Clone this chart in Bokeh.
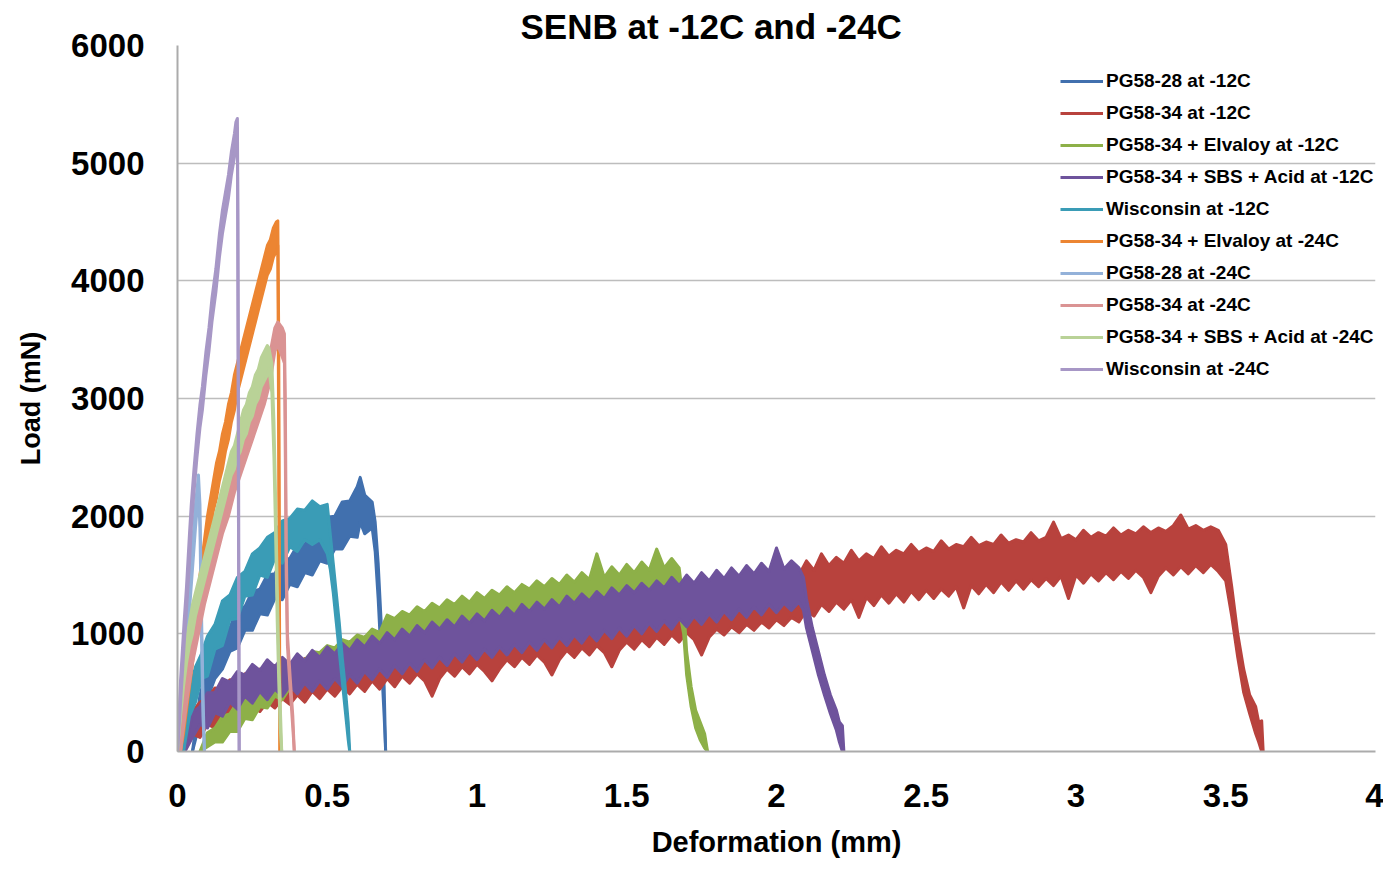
from bokeh.plotting import figure
from bokeh.models import Legend, LegendItem, FixedTicker, Range1d
from bokeh.embed import file_html
from bokeh.resources import INLINE

# ---------------- data ----------------
title_text = "SENB at -12C and -24C"
x_label = "Deformation (mm)"
y_label = "Load (mN)"
x_ticks = [0, 0.5, 1, 1.5, 2, 2.5, 3, 3.5, 4]
x_tick_labels = ["0", "0.5", "1", "1.5", "2", "2.5", "3", "3.5", "4"]
y_ticks = [0, 1000, 2000, 3000, 4000, 5000, 6000]
y_tick_labels = ["0", "1000", "2000", "3000", "4000", "5000", "6000"]

series_names = [
    "PG58-28 at -12C", "PG58-34 at -12C", "PG58-34 + Elvaloy at -12C",
    "PG58-34 + SBS + Acid at -12C", "Wisconsin at -12C", "PG58-34 + Elvaloy at -24C",
    "PG58-28 at -24C", "PG58-34 at -24C", "PG58-34 + SBS + Acid at -24C",
    "Wisconsin at -24C",
]
series_colors = ["#4170AE", "#B8423D", "#8DB048", "#6E539C", "#3A9CB6",
                 "#EC8532", "#93B1D9", "#DA9393", "#B9D297", "#A797C6"]

# each series: (deformation mm, lower edge of noisy trace mN, upper edge mN)
pg5828_m12 = [(0.050,0,0),(0.075,250,480),(0.100,450,720),(0.125,620,820),(0.150,700,1030),
    (0.175,850,1050),(0.200,880,1220),(0.225,1030,1230),(0.250,1030,1360),(0.275,1170,1380),
    (0.300,1160,1500),(0.325,1300,1510),(0.350,1290,1630),(0.375,1420,1640),(0.400,1400,1750),
    (0.425,1520,1760),(0.450,1500,1870),(0.475,1620,1880),(0.500,1600,1990),(0.525,1720,2000),
    (0.550,1720,2120),(0.575,1830,2130),(0.600,1820,2250),(0.610,1950,2330),(0.625,1850,2180),
    (0.650,1900,2120),(0.660,1700,1950),(0.670,1300,1600),(0.680,800,1100),(0.690,300,550),(0.695,0,0)]

pg5834_m12 = [(0.000,0,0),(0.025,60,220),(0.050,150,340),(0.075,120,420),(0.100,230,450),
    (0.125,200,540),(0.150,300,530),(0.175,270,610),(0.200,350,580),(0.225,300,660),(0.250,390,620),
    (0.275,340,700),(0.300,420,650),(0.325,370,730),(0.350,450,680),(0.375,400,760),(0.400,480,710),
    (0.425,420,790),(0.450,510,740),(0.475,450,820),(0.500,530,770),(0.525,470,840),(0.550,550,790),
    (0.575,490,870),(0.600,570,820),(0.625,510,890),(0.650,600,840),(0.675,530,910),(0.700,620,870),
    (0.725,550,940),(0.750,640,890),(0.775,580,960),(0.800,660,910),(0.825,600,980),(0.850,470,940),
    (0.875,620,1000),(0.900,700,960),(0.925,640,1030),(0.950,720,980),(0.975,660,1050),(1.000,740,1000),
    (1.025,680,1070),(1.050,600,1030),(1.075,700,1090),(1.100,780,1050),(1.125,720,1110),(1.150,800,1070),
    (1.175,740,1130),(1.200,820,1090),(1.225,760,1150),(1.250,650,1110),(1.275,780,1170),(1.300,860,1130),
    (1.325,800,1190),(1.350,880,1150),(1.375,820,1210),(1.400,900,1170),(1.425,840,1230),(1.450,720,1190),
    (1.475,860,1250),(1.500,930,1210),(1.525,870,1270),(1.550,950,1230),(1.575,890,1290),(1.600,970,1250),
    (1.625,910,1310),(1.650,990,1270),(1.675,930,1330),(1.700,1010,1290),(1.725,950,1350),(1.750,820,1310),
    (1.775,970,1370),(1.800,1040,1330),(1.825,990,1390),(1.850,1060,1350),(1.875,1010,1410),(1.900,1080,1370),
    (1.925,1030,1430),(1.950,1100,1390),(1.975,1050,1450),(2.000,1120,1410),(2.025,1070,1470),(2.050,1140,1430),
    (2.075,1100,1500),(2.100,1200,1620),(2.125,1150,1540),(2.150,1250,1680),(2.175,1190,1580),(2.200,1270,1650),
    (2.225,1210,1600),(2.250,1290,1710),(2.275,1140,1620),(2.300,1310,1680),(2.325,1240,1640),(2.350,1330,1740),
    (2.375,1260,1660),(2.400,1340,1710),(2.425,1270,1680),(2.450,1360,1760),(2.475,1290,1690),(2.500,1370,1730),
    (2.525,1300,1700),(2.550,1380,1790),(2.575,1320,1720),(2.600,1400,1760),(2.625,1220,1740),(2.650,1410,1820),
    (2.675,1340,1750),(2.700,1420,1780),(2.725,1350,1760),(2.750,1440,1840),(2.775,1370,1770),(2.800,1450,1800),
    (2.825,1380,1780),(2.850,1460,1860),(2.875,1400,1790),(2.900,1470,1820),(2.925,1410,1950),(2.950,1490,1810),
    (2.975,1300,1840),(3.000,1500,1800),(3.025,1430,1880),(3.050,1510,1820),(3.075,1450,1860),(3.100,1520,1830),
    (3.125,1460,1900),(3.150,1530,1840),(3.175,1470,1880),(3.200,1540,1850),(3.225,1480,1910),(3.250,1350,1860),
    (3.275,1490,1900),(3.300,1560,1870),(3.325,1500,1920),(3.350,1570,2010),(3.375,1510,1890),(3.400,1580,1920),
    (3.425,1520,1880),(3.450,1590,1910),(3.475,1530,1880),(3.500,1450,1760),(3.520,1150,1400),(3.540,800,1000),
    (3.560,500,700),(3.580,320,480),(3.600,150,380),(3.610,80,250),(3.620,0,260),(3.625,0,0)]

elvaloy_m12 = [(0.075,0,0),(0.100,40,160),(0.125,80,200),(0.150,80,300),(0.175,170,320),(0.200,170,420),
    (0.225,280,440),(0.250,270,540),(0.275,380,560),(0.300,370,640),(0.325,470,650),(0.350,440,720),
    (0.375,540,720),(0.400,510,790),(0.425,600,780),(0.450,570,850),(0.475,660,840),(0.500,620,900),
    (0.525,710,880),(0.550,670,950),(0.575,760,930),(0.600,720,990),(0.625,800,970),(0.650,760,1040),
    (0.675,840,1010),(0.700,800,1160),(0.725,880,1130),(0.750,830,1190),(0.775,910,1160),(0.800,860,1230),
    (0.825,940,1190),(0.850,890,1260),(0.875,970,1220),(0.900,910,1290),(0.925,990,1250),(0.950,940,1320),
    (0.975,1010,1270),(1.000,960,1350),(1.025,1040,1300),(1.050,980,1370),(1.075,1060,1330),(1.100,1000,1400),
    (1.125,1080,1350),(1.150,1020,1420),(1.175,1100,1380),(1.200,1040,1450),(1.225,1120,1400),(1.250,1060,1470),
    (1.275,1140,1420),(1.300,1080,1500),(1.325,1160,1440),(1.350,1100,1520),(1.375,1180,1460),(1.400,1120,1680),
    (1.425,1200,1480),(1.450,1140,1570),(1.475,1220,1500),(1.500,1160,1590),(1.525,1230,1520),(1.550,1170,1610),
    (1.575,1240,1540),(1.600,1180,1720),(1.625,1250,1560),(1.650,1190,1640),(1.675,1200,1560),(1.690,1000,1250),
    (1.700,650,850),(1.715,380,550),(1.730,200,350),(1.745,100,250),(1.760,30,150),(1.770,0,0)]

sbs_m12 = [(0.025,0,0),(0.050,120,330),(0.075,230,380),(0.100,200,500),(0.125,330,500),(0.150,300,620),
    (0.175,420,590),(0.200,360,680),(0.225,470,650),(0.250,410,740),(0.275,510,690),(0.300,440,780),
    (0.325,530,720),(0.350,470,800),(0.375,560,740),(0.400,490,830),(0.425,580,770),(0.450,510,860),
    (0.475,600,800),(0.500,530,890),(0.525,620,830),(0.550,550,920),(0.575,650,860),(0.600,580,950),
    (0.625,680,890),(0.650,610,980),(0.675,700,920),(0.700,630,1010),(0.725,730,950),(0.750,660,1040),
    (0.775,750,980),(0.800,680,1070),(0.825,780,1010),(0.850,710,1100),(0.875,800,1040),(0.900,730,1120),
    (0.925,830,1060),(0.950,760,1150),(0.975,850,1090),(1.000,780,1170),(1.025,870,1110),(1.050,800,1200),
    (1.075,890,1140),(1.100,820,1220),(1.125,910,1160),(1.150,840,1250),(1.175,930,1190),(1.200,860,1270),
    (1.225,950,1210),(1.250,880,1290),(1.275,970,1230),(1.300,900,1320),(1.325,990,1260),(1.350,920,1340),
    (1.375,1010,1280),(1.400,940,1360),(1.425,1030,1300),(1.450,960,1390),(1.475,1050,1330),(1.500,980,1410),
    (1.525,1070,1350),(1.550,1000,1430),(1.575,1090,1370),(1.600,1020,1450),(1.625,1110,1390),(1.650,1040,1480),
    (1.675,1130,1410),(1.700,1060,1500),(1.725,1150,1430),(1.750,1080,1520),(1.775,1170,1450),(1.800,1100,1540),
    (1.825,1190,1470),(1.850,1120,1560),(1.875,1210,1490),(1.900,1140,1580),(1.925,1230,1510),(1.950,1160,1600),
    (1.975,1250,1530),(2.000,1180,1730),(2.025,1260,1550),(2.050,1200,1620),(2.075,1270,1560),(2.090,1200,1480),
    (2.100,1050,1300),(2.120,850,1050),(2.140,650,850),(2.160,480,650),(2.180,320,480),(2.200,180,350),
    (2.210,80,250),(2.220,0,220),(2.225,0,0)]

wisc_m12 = [(0.020,0,0),(0.040,300,520),(0.060,420,720),(0.080,620,830),(0.100,640,980),(0.125,870,1080),
    (0.150,900,1280),(0.175,1120,1330),(0.200,1130,1480),(0.225,1320,1530),(0.250,1330,1680),(0.275,1500,1730),
    (0.300,1480,1820),(0.325,1640,1860),(0.350,1600,1960),(0.375,1740,1980),(0.400,1700,2060),(0.425,1800,2050),
    (0.450,1760,2130),(0.475,1800,2080),(0.500,1680,2100),(0.510,1550,1850),(0.520,1350,1600),(0.530,1100,1350),
    (0.540,850,1100),(0.550,600,800),(0.560,350,550),(0.570,100,250),(0.575,0,0)]

elvaloy_m24 = [(0.010,0,0),(0.020,150,350),(0.030,350,550),(0.040,550,800),(0.050,750,1000),(0.060,950,1200),
    (0.070,1150,1400),(0.080,1350,1600),(0.090,1550,1800),(0.100,1750,2000),(0.110,1900,2150),(0.120,2050,2300),
    (0.130,2150,2450),(0.140,2300,2550),(0.150,2400,2700),(0.160,2550,2800),(0.170,2650,2950),(0.180,2800,3050),
    (0.190,2900,3200),(0.200,3050,3300),(0.210,3150,3400),(0.220,3250,3500),(0.230,3350,3600),(0.240,3450,3700),
    (0.250,3550,3800),(0.260,3650,3900),(0.270,3750,4000),(0.280,3850,4100),(0.290,3950,4200),(0.300,4050,4300),
    (0.310,4100,4350),(0.320,4200,4450),(0.330,4250,4500),(0.335,4300,4510),(0.338,2500,3500),(0.342,0,0)]

pg5828_m24 = [(0.000,0,0),(0.020,500,700),(0.040,1200,1400),(0.060,1900,2100),(0.070,2200,2350),
    (0.075,1900,2100),(0.080,1000,1200),(0.085,300,500),(0.090,0,0)]

pg5834_m24 = [(0.010,0,0),(0.030,400,650),(0.050,750,1000),(0.070,1000,1250),(0.090,1250,1500),
    (0.110,1450,1700),(0.130,1650,1900),(0.150,1850,2100),(0.170,2000,2250),(0.190,2200,2450),
    (0.210,2350,2600),(0.230,2500,2750),(0.250,2650,2900),(0.270,2800,3050),(0.290,2950,3200),
    (0.310,3150,3400),(0.325,3400,3600),(0.335,3450,3650),(0.350,3350,3600),(0.357,3300,3550),
    (0.360,2500,3000),(0.363,1500,1800),(0.367,900,1000),(0.377,500,600),(0.385,200,300),(0.390,0,0)]

sbs_m24 = [(0.000,0,0),(0.010,300,500),(0.020,550,800),(0.030,750,950),(0.040,900,1100),(0.050,1000,1250),
    (0.060,1150,1350),(0.070,1250,1450),(0.080,1350,1550),(0.090,1450,1650),(0.100,1550,1750),(0.110,1650,1850),
    (0.120,1750,1950),(0.130,1850,2050),(0.140,1950,2150),(0.150,2050,2250),(0.160,2150,2350),(0.170,2250,2450),
    (0.180,2350,2550),(0.190,2400,2600),(0.200,2500,2700),(0.210,2550,2800),(0.220,2650,2900),(0.230,2700,2950),
    (0.240,2800,3050),(0.250,2850,3100),(0.260,2950,3200),(0.270,3000,3250),(0.280,3100,3350),(0.290,3150,3400),
    (0.300,3200,3450),(0.305,3250,3430),(0.315,3050,3300),(0.322,2500,2800),(0.328,1800,2100),(0.333,1100,1400),
    (0.338,600,800),(0.343,200,400),(0.348,0,0)]

wisc_m24 = [(0.000,0,0),(0.010,400,600),(0.022,900,1100),(0.030,1200,1400),(0.040,1600,1850),(0.046,1900,2100),
    (0.055,2200,2400),(0.065,2500,2700),(0.075,2750,2950),(0.083,2900,3100),(0.095,3200,3400),(0.105,3400,3600),
    (0.115,3650,3850),(0.128,3900,4100),(0.140,4200,4400),(0.150,4400,4600),(0.160,4550,4750),(0.170,4700,4900),
    (0.180,4900,5100),(0.190,5050,5250),(0.195,5150,5350),(0.200,5300,5380),(0.202,3500,4500),(0.204,1500,2500),
    (0.206,0,0)]

all_series = [pg5828_m12, pg5834_m12, elvaloy_m12, sbs_m12, wisc_m12,
              elvaloy_m24, pg5828_m24, pg5834_m24, sbs_m24, wisc_m24]

# ---------------- figure ----------------
FONT = "Liberation Sans"
W, H = 1383, 860
p = figure(width=W, height=H, output_backend="svg", toolbar_location=None,
           x_range=Range1d(0, 4), y_range=Range1d(0, 6000),
           min_border_left=177, min_border_right=8, min_border_top=45, min_border_bottom=108)
p.outline_line_color = None
p.background_fill_color = "white"
p.border_fill_color = "white"

p.title.text = title_text
p.title.text_font = FONT
p.title.text_font_style = "bold"
p.title.text_font_size = "35px"
p.title.text_color = "black"
p.title.align = "left"
p.title.offset = 343
p.title.standoff = 0

p.xgrid.grid_line_color = None
p.ygrid.ticker = FixedTicker(ticks=y_ticks)
p.ygrid.grid_line_color = "#BDBDBD"
p.ygrid.grid_line_width = 1.5

renderers = []
for pts, color in zip(all_series, series_colors):
    xs = [a for a, b, c in pts]
    lo = [b for a, b, c in pts]
    hi = [c for a, b, c in pts]
    p.varea(x=xs, y1=lo, y2=hi, fill_color=color)
    p.line(xs, lo, line_color=color, line_width=3, line_join="round")
    r = p.line(xs, hi, line_color=color, line_width=3, line_join="round")
    renderers.append(r)

# axes
for ax in (p.xaxis[0], p.yaxis[0]):
    ax.major_tick_line_color = None
    ax.minor_tick_line_color = None
    ax.major_tick_out = 0
    ax.major_tick_in = 0
    ax.major_label_text_font = FONT
    ax.major_label_text_font_style = "bold"
    ax.major_label_text_font_size = "33px"
    ax.major_label_text_color = "black"
    ax.axis_label_text_font = FONT
    ax.axis_label_text_font_style = "bold"
    ax.axis_label_text_color = "black"
    ax.axis_line_color = "#ABABAB"
    ax.axis_line_width = 2

p.xaxis.ticker = FixedTicker(ticks=x_ticks)
p.xaxis.major_label_overrides = {t: l for t, l in zip(x_ticks, x_tick_labels)}
p.yaxis.ticker = FixedTicker(ticks=y_ticks)
p.yaxis.major_label_overrides = {t: l for t, l in zip(y_ticks, y_tick_labels)}
p.xaxis.axis_label = x_label
p.yaxis.axis_label = y_label
p.xaxis.axis_label_text_font_size = "29px"
p.yaxis.axis_label_text_font_size = "27px"
p.xaxis.major_label_standoff = 32
p.yaxis.major_label_standoff = 33
p.xaxis.axis_label_standoff = 16
p.yaxis.axis_label_standoff = 22

legend = Legend(items=[LegendItem(label=n, renderers=[r]) for n, r in zip(series_names, renderers)],
                location=(883, 366))
legend.label_text_font = FONT
legend.label_text_font_style = "bold"
legend.label_text_font_size = "19px"
legend.label_text_color = "black"
legend.glyph_width = 43
legend.glyph_height = 32
legend.label_height = 32
legend.label_standoff = 3
legend.spacing = 0
legend.padding = 0
legend.margin = 0
legend.border_line_color = None
legend.background_fill_alpha = 0
p.add_layout(legend)

open("out.html", "w").write(file_html(p, INLINE))
